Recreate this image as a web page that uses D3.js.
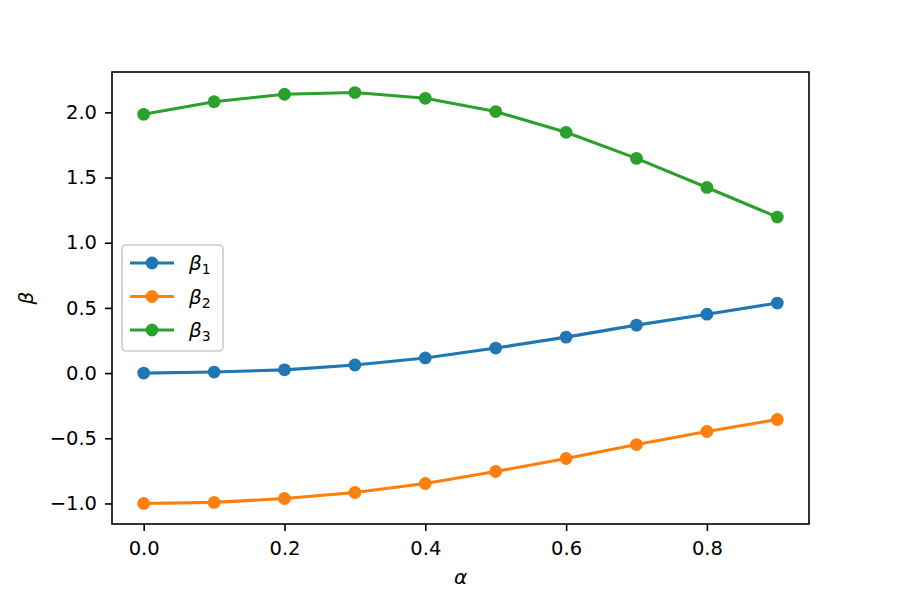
<!DOCTYPE html>
<html>
<head>
<meta charset="utf-8">
<script src="https://cdn.jsdelivr.net/npm/d3@7"></script>
<style>
  body { margin: 0; background: #fff; }
  svg { font-family: "DejaVu Sans", sans-serif; }
</style>
</head>
<body>
<div id="chart"></div>
<script>
// data
const alphas = [0.0, 0.1, 0.2, 0.3, 0.4, 0.5, 0.6, 0.7, 0.8, 0.9];
const beta1 = [0.000, 0.008, 0.025, 0.062, 0.116, 0.192, 0.276, 0.368, 0.452, 0.537];
const beta2 = [-1.000, -0.992, -0.962, -0.916, -0.847, -0.755, -0.655, -0.548, -0.448, -0.356];
const beta3 = [1.985, 2.082, 2.139, 2.152, 2.108, 2.006, 1.847, 1.647, 1.424, 1.197];
const seriesNames = ["1", "2", "3"];
const seriesColors = ["#1f77b4", "#ff7f0e", "#2ca02c"];
const xTicks = [0.0, 0.2, 0.4, 0.6, 0.8];
const yTicks = [-1.0, -0.5, 0.0, 0.5, 1.0, 1.5, 2.0];

const width = 900, height = 600;
const margin = {top: 72, right: 91, bottom: 76, left: 112};

const svg = d3.select("#chart").append("svg")
    .attr("width", width)
    .attr("height", height);

const series = [beta1, beta2, beta3].map((vals, i) => ({
    name: seriesNames[i],
    color: seriesColors[i],
    points: alphas.map((a, j) => ({x: a, y: vals[j]}))
}));

// matplotlib-like 5% margins around the data
function padded(ext) {
    const d = (ext[1] - ext[0]) * 0.05;
    return [ext[0] - d, ext[1] + d];
}
const allY = [...beta1, ...beta2, ...beta3];

const x = d3.scaleLinear()
    .domain(padded(d3.extent(alphas)))
    .range([margin.left, width - margin.right]);
const y = d3.scaleLinear()
    .domain(padded(d3.extent(allY)))
    .range([height - margin.bottom, margin.top]);

const fmt = d3.format(".1f");

// axes
const xAxis = svg.append("g")
    .attr("transform", `translate(0,${height - margin.bottom})`)
    .call(d3.axisBottom(x).tickValues(xTicks).tickFormat(fmt).tickSizeInner(7).tickSizeOuter(0).tickPadding(10));
const yAxis = svg.append("g")
    .attr("transform", `translate(${margin.left},0)`)
    .call(d3.axisLeft(y).tickValues(yTicks).tickFormat(fmt).tickSizeInner(7).tickSizeOuter(0).tickPadding(8));

[xAxis, yAxis].forEach(g => {
    g.attr("font-family", null).attr("font-size", null);
    g.select(".domain").remove();
    g.selectAll(".tick line").attr("stroke", "#000").attr("stroke-width", 1.6);
    g.selectAll(".tick text")
        .attr("fill", "#000")
        .style("font-family", "'DejaVu Sans', sans-serif")
        .style("font-size", "19.5px");
});

// lines and markers
const line = d3.line().x(d => x(d.x)).y(d => y(d.y));
series.forEach(s => {
    svg.append("path")
        .datum(s.points)
        .attr("fill", "none")
        .attr("stroke", s.color)
        .attr("stroke-width", 3.1)
        .attr("stroke-linejoin", "round")
        .attr("stroke-linecap", "square")
        .attr("d", line);
    svg.append("g")
        .selectAll("circle")
        .data(s.points)
        .join("circle")
        .attr("cx", d => x(d.x))
        .attr("cy", d => y(d.y))
        .attr("r", 6.4)
        .attr("fill", s.color);
});

// frame
svg.append("rect")
    .attr("x", margin.left)
    .attr("y", margin.top)
    .attr("width", width - margin.left - margin.right)
    .attr("height", height - margin.top - margin.bottom)
    .attr("fill", "none")
    .attr("stroke", "#000")
    .attr("stroke-width", 1.6);

// axis labels
svg.append("text")
    .attr("x", (margin.left + width - margin.right) / 2)
    .attr("y", 584)
    .attr("text-anchor", "middle")
    .style("font-size", "20px")
    .style("font-style", "italic")
    .text("α");
svg.append("text")
    .attr("transform", `translate(33,${(margin.top + height - margin.bottom) / 2}) rotate(-90)`)
    .attr("text-anchor", "middle")
    .style("font-size", "20px")
    .style("font-style", "italic")
    .text("β");

// legend
const legend = svg.append("g").attr("transform", "translate(122,245)");
legend.append("rect")
    .attr("width", 101)
    .attr("height", 106)
    .attr("rx", 4)
    .attr("fill", "#fff")
    .attr("fill-opacity", 0.8)
    .attr("stroke", "#cccccc")
    .attr("stroke-width", 1.6);

const rows = legend.selectAll("g.row")
    .data(series)
    .join("g")
    .attr("class", "row")
    .attr("transform", (d, i) => `translate(0,${18 + i * 33.5})`);
rows.append("line")
    .attr("x1", 8).attr("x2", 52)
    .attr("stroke", d => d.color)
    .attr("stroke-width", 3.1);
rows.append("circle")
    .attr("cx", 30)
    .attr("r", 6.4)
    .attr("fill", d => d.color);
const lt = rows.append("text")
    .attr("x", 67)
    .attr("y", 7)
    .style("font-size", "20px");
lt.append("tspan").style("font-style", "italic").text("β");
lt.append("tspan").attr("dy", 4).style("font-size", "14px").text(d => d.name);
</script>
</body>
</html>
